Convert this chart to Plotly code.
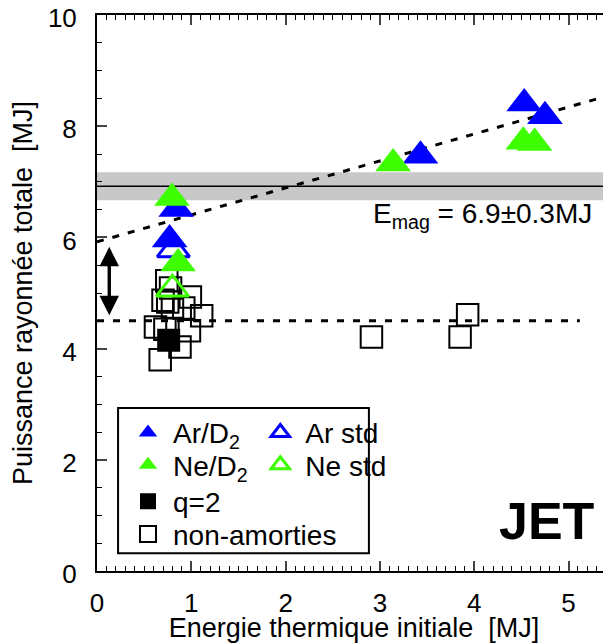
import plotly.graph_objects as go

# ---------------- data ----------------
ar_x = [0.84, 0.77, 3.43, 4.53, 4.75]
ar_y = [6.51, 5.96, 7.47, 8.41, 8.18]
ar_std_x = [0.81]
ar_std_y = [5.78]
ne_x = [0.795, 0.86, 3.14, 4.52, 4.64]
ne_y = [6.71, 5.53, 7.33, 7.72, 7.70]
ne_std_x = [0.80]
ne_std_y = [5.07]
q2_x = [0.76]
q2_y = [4.15]
na_x = [0.74, 0.78, 0.99, 0.75, 0.80, 0.92, 1.11, 0.62, 0.72, 0.98, 0.88, 0.67, 0.70, 2.91, 3.85, 3.93]
na_y = [5.22, 5.09, 4.93, 4.84, 4.75, 4.73, 4.59, 4.39, 4.35, 4.32, 4.03, 3.80, 4.87, 4.21, 4.21, 4.61]

e_mag = 6.92
e_mag_band = [6.67, 7.17]
fit_intercept = 5.92
fit_slope = 0.485
base_level = 4.5
base_x = [0.0, 5.12]
arrow_x = 0.13
arrow_y = [4.60, 5.83]

x_range = [0, 5.45]
y_range = [0, 10]
x_ticks = [0, 1, 2, 3, 4, 5]
y_ticks = [0, 2, 4, 6, 8, 10]

x_title = "Energie thermique initiale  [MJ]"
y_title = "Puissance rayonnée totale  [MJ]"
emag_label = "E<sub>mag</sub> = 6.9±0.3MJ"

BLUE = "#0000FF"
GREEN = "#3DFF00"
FONT = "Arial, Liberation Sans, Helvetica, sans-serif"

fig = go.Figure()

# fit line and baseline
fit_x = [x_range[0], x_range[1]]
fit_y = [fit_intercept + fit_slope * v for v in fit_x]
fig.add_trace(go.Scatter(x=fit_x, y=fit_y, mode="lines", showlegend=False,
                         line=dict(color="black", width=3, dash="7px,9px"), hoverinfo="skip"))
fig.add_trace(go.Scatter(x=base_x, y=[base_level, base_level], mode="lines", showlegend=False,
                         line=dict(color="black", width=3, dash="7px,9px"), hoverinfo="skip"))
fig.add_trace(go.Scatter(x=x_range, y=[e_mag, e_mag], mode="lines", showlegend=False,
                         line=dict(color="black", width=1.5), hoverinfo="skip"))

TRI = 31
# markers
fig.add_trace(go.Scatter(x=na_x, y=na_y, mode="markers", name="non-amorties", legend="legend4",
                         marker=dict(symbol="square-open", size=21.5, color="black", line=dict(width=2))))
fig.add_trace(go.Scatter(x=q2_x, y=q2_y, mode="markers", name="q=2", legend="legend3",
                         marker=dict(symbol="square", size=23, color="black", line=dict(width=0))))
fig.add_trace(go.Scatter(x=ar_x, y=ar_y, mode="markers", name="Ar/D<sub>2</sub>", legend="legend",
                         marker=dict(symbol="triangle-up", size=TRI, color=BLUE, line=dict(width=0))))
fig.add_trace(go.Scatter(x=ar_std_x, y=ar_std_y, mode="markers", name="Ar std", legend="legend5",
                         marker=dict(symbol="triangle-up-open", size=TRI - 3, color=BLUE, line=dict(width=3))))
fig.add_trace(go.Scatter(x=ne_x, y=ne_y, mode="markers", name="Ne/D<sub>2</sub>", legend="legend2",
                         marker=dict(symbol="triangle-up", size=TRI, color=GREEN, line=dict(width=0))))
fig.add_trace(go.Scatter(x=ne_std_x, y=ne_std_y, mode="markers", name="Ne std", legend="legend6",
                         marker=dict(symbol="triangle-up-open", size=TRI - 3, color=GREEN, line=dict(width=3))))
# dummy trace for right-side ticks
fig.add_trace(go.Scatter(x=[None], y=[None], yaxis="y2", showlegend=False, hoverinfo="skip"))

# band
fig.add_shape(type="rect", xref="x", yref="y", x0=x_range[0], x1=x_range[1],
              y0=e_mag_band[0], y1=e_mag_band[1], fillcolor="#C8C8C8", line=dict(width=0), layer="below")

# legend frame
fig.add_shape(type="rect", xref="paper", yref="paper", x0=0.041, x1=0.529, y0=0.032, y1=0.293,
              line=dict(color="black", width=2), fillcolor="rgba(0,0,0,0)", layer="below")

# double arrow (two overlapping single-headed arrows)
arrow_tails = [arrow_y[1] - 0.75 * (arrow_y[1] - arrow_y[0]), arrow_y[0] + 0.75 * (arrow_y[1] - arrow_y[0])]
for yend, ytail in zip([arrow_y[1], arrow_y[0]], arrow_tails):
    fig.add_annotation(x=arrow_x, y=yend, ax=arrow_x, ay=ytail, xref="x", yref="y", axref="x", ayref="y",
                       text="", showarrow=True, arrowhead=2, arrowsize=1.3, arrowwidth=3, arrowcolor="black")

fig.add_annotation(x=2.91, y=6.39, xref="x", yref="y", text=emag_label, showarrow=False,
                   xanchor="left", yanchor="middle", font=dict(size=28, color="black", family=FONT))
fig.add_annotation(x=4.77, y=0.90, xref="x", yref="y", text="<b>JET</b>", showarrow=False,
                   xanchor="center", yanchor="middle", font=dict(size=52, color="black", family=FONT))

legfont = dict(size=28, color="black", family=FONT)
def leg(xp, yp):
    return dict(x=xp, y=yp, xanchor="left", yanchor="middle", bgcolor="rgba(0,0,0,0)",
                borderwidth=0, font=legfont, itemwidth=40, itemsizing="trace")

col1 = 0.0506
col2 = 0.308
# page body has an 8px margin: figure is sized so that it ends at the window edges
fig.update_layout(
    width=603, height=635,
    margin=dict(l=89, r=0, t=7, b=72, autoexpand=False),
    plot_bgcolor="white", paper_bgcolor="white",
    font=dict(family=FONT, size=26, color="black"),
    legend=leg(col1, 0.2486),
    legend2=leg(col1, 0.1906),
    legend3=leg(col1, 0.125),
    legend4=leg(col1, 0.066),
    legend5=leg(col2, 0.2486),
    legend6=leg(col2, 0.1906),
    xaxis=dict(range=x_range, tickvals=x_ticks, ticks="inside", ticklen=10, tickwidth=1.5,
               showline=True, linecolor="black", linewidth=2, mirror="ticks", showgrid=False,
               zeroline=False, ticklabelstandoff=8, automargin=False, ticklabeloverflow="allow",
               minor=dict(dtick=0.1, ticks="inside", ticklen=5, tickwidth=1.2, tickcolor="black", showgrid=False),
               title=dict(text=x_title, font=dict(size=27), standoff=0)),
    yaxis=dict(range=y_range, tickvals=y_ticks, ticks="inside", ticklen=10, tickwidth=1.5,
               showline=True, linecolor="black", linewidth=2, mirror=False, showgrid=False,
               zeroline=False, ticklabelstandoff=13, ticklabelshift=3, automargin=False,
               ticklabeloverflow="allow",
               minor=dict(dtick=0.5, ticks="inside", ticklen=5, tickwidth=1.2, tickcolor="black", showgrid=False),
               title=dict(text=y_title, font=dict(size=27), standoff=8)),
    yaxis2=dict(overlaying="y", side="right", matches="y", tickvals=y_ticks, ticks="inside",
                ticklen=5, tickwidth=1.5, showticklabels=False, showline=False, showgrid=False,
                zeroline=False, automargin=False),
)

fig.write_html("out.html")
